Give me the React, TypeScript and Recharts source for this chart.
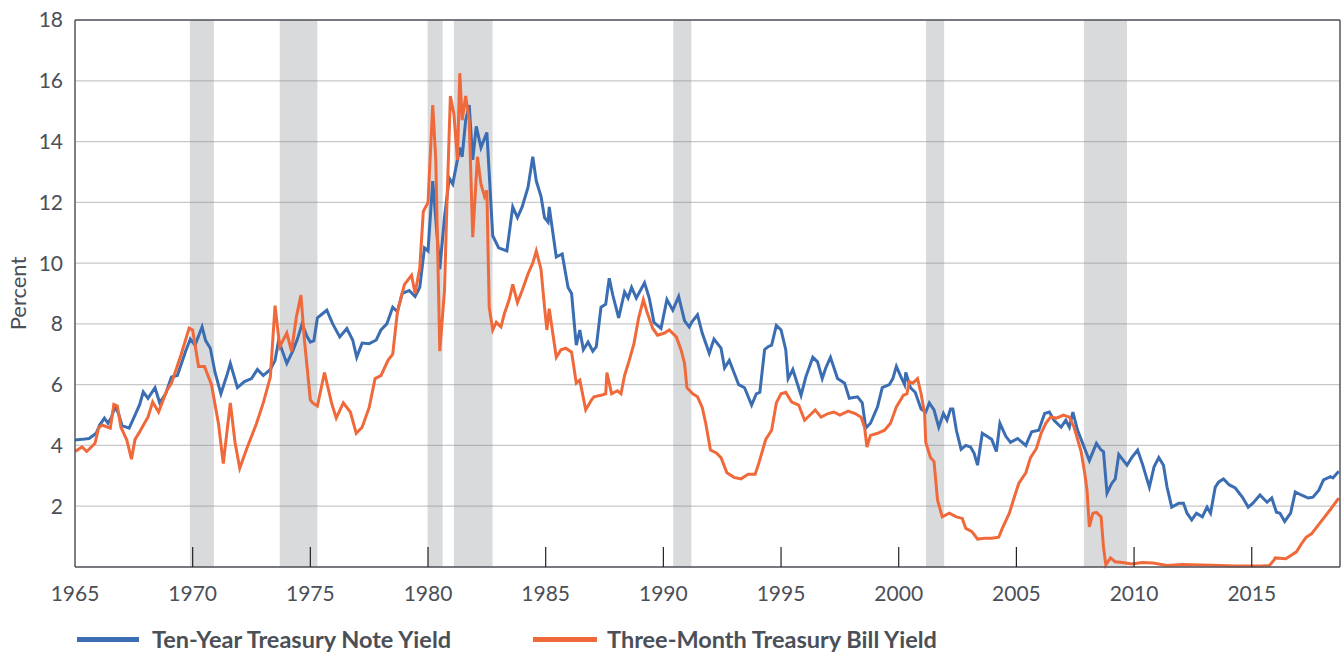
import { LineChart, Line, XAxis, YAxis, CartesianGrid, ReferenceArea, ReferenceLine, Legend } from 'recharts';

// [year, percent]
const tenYearNote: [number, number][] = [
  [1965.0, 4.18], [1965.3, 4.2], [1965.6, 4.23], [1965.9, 4.4], [1966.05, 4.67], [1966.25, 4.9], [1966.4, 4.73],
  [1966.55, 4.93], [1966.7, 5.27], [1966.85, 5.05], [1967.0, 4.65], [1967.3, 4.57], [1967.55, 5.0], [1967.75, 5.35],
  [1967.9, 5.76], [1968.1, 5.55], [1968.4, 5.9], [1968.6, 5.4], [1968.85, 5.7], [1969.1, 6.25], [1969.35, 6.3],
  [1969.7, 7.1], [1969.9, 7.5], [1970.1, 7.3], [1970.4, 7.9], [1970.55, 7.45], [1970.75, 7.2], [1970.95, 6.4],
  [1971.2, 5.7], [1971.45, 6.3], [1971.6, 6.7], [1971.9, 5.9], [1972.2, 6.1], [1972.5, 6.2], [1972.75, 6.5],
  [1973.0, 6.3], [1973.3, 6.5], [1973.5, 6.8], [1973.65, 7.45], [1974.0, 6.7], [1974.25, 7.1], [1974.45, 7.5],
  [1974.65, 8.0], [1974.85, 7.6], [1975.0, 7.4], [1975.15, 7.45], [1975.3, 8.2], [1975.7, 8.45], [1975.95, 8.0],
  [1976.25, 7.57], [1976.55, 7.85], [1976.8, 7.47], [1976.97, 6.9], [1977.2, 7.37], [1977.5, 7.35], [1977.8, 7.47],
  [1978.0, 7.8], [1978.25, 8.0], [1978.5, 8.55], [1978.7, 8.4], [1978.9, 9.0], [1979.2, 9.1], [1979.45, 8.9],
  [1979.65, 9.2], [1979.85, 10.5], [1980.0, 10.4], [1980.2, 12.7], [1980.5, 9.8], [1980.7, 11.5], [1980.9, 12.8],
  [1981.05, 12.6], [1981.2, 13.2], [1981.35, 13.8], [1981.45, 13.5], [1981.6, 14.7], [1981.75, 15.2], [1981.9, 13.4],
  [1982.05, 14.5], [1982.25, 13.8], [1982.5, 14.3], [1982.6, 12.95], [1982.75, 10.9], [1983.0, 10.5], [1983.35, 10.4],
  [1983.6, 11.85], [1983.8, 11.5], [1984.0, 11.85], [1984.25, 12.5], [1984.45, 13.5], [1984.6, 12.7], [1984.8, 12.2],
  [1984.95, 11.5], [1985.1, 11.35], [1985.15, 11.85], [1985.45, 10.2], [1985.7, 10.3], [1985.95, 9.2], [1986.1, 9.0],
  [1986.25, 7.7], [1986.3, 7.3], [1986.45, 7.8], [1986.6, 7.15], [1986.8, 7.4], [1987.0, 7.1], [1987.15, 7.25],
  [1987.35, 8.55], [1987.55, 8.65], [1987.7, 9.5], [1987.85, 8.95], [1988.1, 8.2], [1988.35, 9.05], [1988.5, 8.85],
  [1988.65, 9.2], [1988.85, 8.85], [1989.2, 9.35], [1989.4, 8.85], [1989.6, 8.05], [1989.9, 7.85], [1990.15, 8.8],
  [1990.4, 8.45], [1990.65, 8.9], [1990.9, 8.1], [1991.1, 7.9], [1991.2, 8.05], [1991.45, 8.3], [1991.65, 7.7],
  [1991.95, 7.03], [1992.15, 7.5], [1992.45, 7.2], [1992.6, 6.55], [1992.8, 6.8], [1993.0, 6.4], [1993.2, 6.0],
  [1993.45, 5.9], [1993.75, 5.33], [1993.95, 5.7], [1994.1, 5.75], [1994.3, 7.15], [1994.45, 7.25], [1994.6, 7.3],
  [1994.8, 7.95], [1995.0, 7.8], [1995.2, 7.15], [1995.3, 6.2], [1995.5, 6.5], [1995.85, 5.65], [1996.05, 6.25],
  [1996.35, 6.9], [1996.55, 6.75], [1996.75, 6.2], [1996.9, 6.55], [1997.1, 6.9], [1997.4, 6.2], [1997.7, 6.05],
  [1997.9, 5.55], [1998.25, 5.6], [1998.45, 5.4], [1998.6, 4.57], [1998.8, 4.73], [1999.1, 5.27], [1999.3, 5.9],
  [1999.6, 6.0], [1999.75, 6.2], [1999.9, 6.6], [2000.1, 6.25], [2000.25, 6.0], [2000.3, 6.4], [2000.5, 5.9],
  [2000.7, 5.75], [2000.95, 5.2], [2001.15, 5.1], [2001.3, 5.4], [2001.5, 5.17], [2001.7, 4.6], [2001.9, 5.05],
  [2002.05, 4.83], [2002.2, 5.2], [2002.3, 5.2], [2002.45, 4.5], [2002.65, 3.87], [2002.85, 4.0], [2003.05, 3.95],
  [2003.2, 3.75], [2003.35, 3.35], [2003.55, 4.4], [2003.75, 4.3], [2003.95, 4.2], [2004.15, 3.8], [2004.3, 4.73],
  [2004.55, 4.3], [2004.75, 4.1], [2005.05, 4.23], [2005.4, 4.0], [2005.65, 4.45], [2005.95, 4.5], [2006.2, 5.05],
  [2006.4, 5.1], [2006.6, 4.83], [2006.9, 4.6], [2007.1, 4.83], [2007.25, 4.6], [2007.4, 5.1], [2007.6, 4.5],
  [2007.8, 4.1], [2007.95, 3.8], [2008.1, 3.5], [2008.4, 4.07], [2008.6, 3.85], [2008.7, 3.8], [2008.85, 2.43],
  [2009.05, 2.75], [2009.2, 2.9], [2009.35, 3.7], [2009.55, 3.5], [2009.7, 3.35], [2009.9, 3.6], [2010.15, 3.85],
  [2010.35, 3.4], [2010.65, 2.63], [2010.85, 3.3], [2011.05, 3.6], [2011.25, 3.35], [2011.4, 2.63], [2011.6, 1.97],
  [2011.9, 2.1], [2012.1, 2.1], [2012.25, 1.77], [2012.45, 1.55], [2012.65, 1.77], [2012.9, 1.65], [2013.1, 1.97],
  [2013.25, 1.77], [2013.45, 2.63], [2013.6, 2.8], [2013.8, 2.9], [2014.05, 2.7], [2014.3, 2.6], [2014.6, 2.3],
  [2014.85, 1.97], [2015.05, 2.1], [2015.35, 2.37], [2015.65, 2.13], [2015.85, 2.27], [2016.05, 1.8], [2016.2, 1.77],
  [2016.4, 1.5], [2016.65, 1.77], [2016.85, 2.47], [2017.1, 2.37], [2017.4, 2.27], [2017.6, 2.3], [2017.85, 2.53],
  [2018.05, 2.87], [2018.35, 2.97], [2018.45, 2.93], [2018.7, 3.15],
];

const threeMonthBill: [number, number][] = [
  [1965.0, 3.8], [1965.3, 3.95], [1965.5, 3.8], [1965.85, 4.07], [1966.0, 4.57], [1966.15, 4.67], [1966.5, 4.57],
  [1966.65, 5.35], [1966.8, 5.3], [1966.95, 4.6], [1967.2, 4.18], [1967.4, 3.55], [1967.55, 4.2], [1967.75, 4.45],
  [1967.95, 4.73], [1968.1, 4.93], [1968.3, 5.43], [1968.55, 5.1], [1968.9, 5.8], [1969.1, 6.05], [1969.5, 6.97],
  [1969.85, 7.86], [1970.0, 7.8], [1970.25, 6.6], [1970.5, 6.6], [1970.8, 6.0], [1971.1, 4.7], [1971.3, 3.4],
  [1971.6, 5.4], [1971.8, 4.1], [1972.0, 3.25], [1972.3, 3.9], [1972.7, 4.7], [1973.0, 5.4], [1973.3, 6.25],
  [1973.5, 8.6], [1973.7, 7.25], [1974.0, 7.7], [1974.2, 7.1], [1974.4, 8.2], [1974.6, 8.95], [1974.75, 7.45],
  [1975.0, 5.5], [1975.1, 5.4], [1975.3, 5.3], [1975.6, 6.4], [1975.9, 5.4], [1976.1, 4.9], [1976.4, 5.4],
  [1976.7, 5.1], [1976.95, 4.4], [1977.2, 4.6], [1977.5, 5.25], [1977.75, 6.2], [1978.0, 6.3], [1978.3, 6.8],
  [1978.5, 7.0], [1978.7, 8.4], [1979.0, 9.3], [1979.3, 9.6], [1979.45, 9.0], [1979.65, 9.85], [1979.8, 11.7],
  [1980.0, 12.0], [1980.2, 15.2], [1980.33, 13.4], [1980.5, 7.1], [1980.7, 9.1], [1980.8, 11.85], [1980.95, 15.5],
  [1981.1, 14.9], [1981.25, 13.4], [1981.35, 16.25], [1981.45, 14.7], [1981.6, 15.5], [1981.75, 14.7], [1981.9, 10.85],
  [1982.1, 13.5], [1982.25, 12.6], [1982.4, 12.2], [1982.5, 12.4], [1982.6, 8.55], [1982.75, 7.8], [1982.9, 8.05],
  [1983.1, 7.9], [1983.25, 8.35], [1983.45, 8.8], [1983.6, 9.3], [1983.8, 8.7], [1984.0, 9.1], [1984.25, 9.65],
  [1984.45, 10.0], [1984.6, 10.4], [1984.8, 9.8], [1984.95, 8.55], [1985.05, 7.8], [1985.15, 8.5], [1985.45, 6.9],
  [1985.65, 7.15], [1985.85, 7.2], [1986.1, 7.07], [1986.3, 6.05], [1986.45, 6.15], [1986.7, 5.17], [1986.95, 5.5],
  [1987.05, 5.6], [1987.35, 5.65], [1987.55, 5.7], [1987.6, 6.4], [1987.8, 5.7], [1988.05, 5.8], [1988.2, 5.7],
  [1988.35, 6.3], [1988.55, 6.8], [1988.75, 7.35], [1988.95, 8.2], [1989.15, 8.8], [1989.3, 8.4], [1989.55, 7.85],
  [1989.75, 7.63], [1990.05, 7.7], [1990.25, 7.8], [1990.55, 7.57], [1990.75, 7.15], [1990.9, 6.7], [1991.0, 5.9],
  [1991.25, 5.7], [1991.45, 5.6], [1991.65, 5.25], [1991.8, 4.73], [1992.0, 3.85], [1992.25, 3.75], [1992.45, 3.6],
  [1992.7, 3.1], [1993.0, 2.95], [1993.3, 2.9], [1993.6, 3.05], [1993.9, 3.05], [1994.05, 3.4], [1994.35, 4.2],
  [1994.6, 4.5], [1994.8, 5.4], [1995.0, 5.7], [1995.2, 5.75], [1995.45, 5.43], [1995.75, 5.33], [1996.0, 4.83],
  [1996.3, 5.05], [1996.45, 5.17], [1996.7, 4.93], [1997.0, 5.05], [1997.25, 5.1], [1997.5, 5.0], [1997.85, 5.13],
  [1998.15, 5.05], [1998.4, 4.93], [1998.55, 4.6], [1998.65, 3.95], [1998.8, 4.33], [1999.1, 4.4], [1999.4, 4.5],
  [1999.65, 4.73], [1999.9, 5.27], [2000.2, 5.65], [2000.35, 5.7], [2000.45, 6.1], [2000.6, 6.05], [2000.8, 6.2],
  [2000.95, 5.7], [2001.1, 5.05], [2001.15, 4.1], [2001.35, 3.6], [2001.5, 3.47], [2001.65, 2.2], [2001.85, 1.65],
  [2002.15, 1.77], [2002.45, 1.65], [2002.7, 1.6], [2002.85, 1.27], [2003.1, 1.17], [2003.35, 0.92], [2003.7, 0.95],
  [2003.95, 0.95], [2004.25, 0.98], [2004.4, 1.27], [2004.7, 1.77], [2004.9, 2.27], [2005.1, 2.75], [2005.4, 3.1],
  [2005.6, 3.6], [2005.85, 3.9], [2006.05, 4.4], [2006.25, 4.73], [2006.45, 4.93], [2006.7, 4.9], [2007.0, 5.0],
  [2007.25, 4.93], [2007.45, 4.6], [2007.6, 4.2], [2007.75, 3.8], [2007.9, 3.1], [2008.0, 2.53], [2008.1, 1.32],
  [2008.25, 1.77], [2008.4, 1.8], [2008.6, 1.65], [2008.7, 0.66], [2008.8, 0.07], [2009.0, 0.3], [2009.2, 0.17],
  [2009.5, 0.15], [2009.9, 0.1], [2010.35, 0.15], [2010.8, 0.13], [2011.4, 0.05], [2012.05, 0.08], [2013.3, 0.06],
  [2014.3, 0.03], [2015.4, 0.03], [2015.75, 0.05], [2015.95, 0.23], [2016.0, 0.3], [2016.45, 0.27], [2016.9, 0.5],
  [2017.1, 0.75], [2017.3, 0.97], [2017.55, 1.1], [2017.85, 1.4], [2018.05, 1.6], [2018.35, 1.9], [2018.7, 2.27],
];

const recessions: [number, number][] = [
  [1969.88, 1970.9], [1973.7, 1975.3], [1979.98, 1980.62], [1981.1, 1982.74],
  [1990.42, 1991.19], [2001.16, 2001.93], [2007.87, 2009.7],
];

const xTicks = [1965, 1970, 1975, 1980, 1985, 1990, 1995, 2000, 2005, 2010, 2015];
const yTicks = [2, 4, 6, 8, 10, 12, 14, 16, 18];
const X_MAX = 2018.75;

const BLUE = '#3b6db3';
const ORANGE = '#f0693b';
const TEXT = '#4b4f57';
const AXIS = '#53565d';
const FONT = 'Lato, "Open Sans", sans-serif';

const toRows = (pts: [number, number][]) => pts.map(([x, y]) => ({ x, y }));

const XTick = (props: any) => {
  const { x, y, payload } = props;
  return (
    <g>
      {payload.value !== 1965 && <line x1={x} x2={x} y1={y - 20} y2={y} stroke="#222" strokeWidth={1.2} />}
      <text x={x} y={y + 34} textAnchor="middle" fill={TEXT} fontSize={21} fontFamily={FONT}>{payload.value}</text>
    </g>
  );
};

const LegendBox = () => (
  <div style={{ position: 'relative', height: 30, fontFamily: FONT, fontWeight: 700, fontSize: 23.5, color: TEXT }}>
    <div style={{ position: 'absolute', left: 77, top: 13, width: 62, height: 5, background: BLUE }} />
    <div style={{ position: 'absolute', left: 152, top: 1, lineHeight: '28px', whiteSpace: 'nowrap' }}>Ten-Year Treasury Note Yield</div>
    <div style={{ position: 'absolute', left: 533, top: 13, width: 64, height: 5, background: ORANGE }} />
    <div style={{ position: 'absolute', left: 607, top: 1, lineHeight: '28px', whiteSpace: 'nowrap' }}>Three-Month Treasury Bill Yield</div>
  </div>
);

export default function App() {
  return (
    <div>
      <style>{`body{margin:0}`}</style>
      <LineChart width={1343} height={654} margin={{ top: 20, right: 3, bottom: 0, left: 0 }}>
        <CartesianGrid vertical={false} stroke="#c8c8c8" strokeWidth={1.2} />
        {recessions.map(([a, b]) => (
          <ReferenceArea key={a} x1={a} x2={b} y1={0} y2={18} fill="#80838a" fillOpacity={0.3}
            stroke="none" ifOverflow="hidden" />
        ))}
        <XAxis type="number" dataKey="x" domain={[1965, X_MAX]} ticks={xTicks} allowDataOverflow
          height={57} tickSize={0} tickMargin={0} tickLine={false} interval={0}
          axisLine={{ stroke: AXIS, strokeWidth: 1.5 }} tick={<XTick />} />
        <YAxis type="number" domain={[0, 18]} ticks={yTicks} width={75} tickSize={0} tickMargin={12}
          tickLine={false} axisLine={{ stroke: AXIS, strokeWidth: 1.5 }}
          tick={{ fontSize: 21, fill: TEXT, fontFamily: FONT }}
          label={{ value: 'Percent', angle: -90, position: 'insideLeft', offset: 18, style: { textAnchor: 'middle', fontSize: 22, fill: TEXT, fontFamily: FONT } }} />
        <Line data={toRows(tenYearNote)} dataKey="y" type="linear" stroke={BLUE} strokeWidth={3}
          dot={false} activeDot={false} isAnimationActive={false} />
        <Line data={toRows(threeMonthBill)} dataKey="y" type="linear" stroke={ORANGE} strokeWidth={3}
          dot={false} activeDot={false} isAnimationActive={false} />
        <ReferenceLine y={18} stroke={AXIS} strokeWidth={1.5} />
        <ReferenceLine x={X_MAX} stroke={AXIS} strokeWidth={1.5} />
        <Legend verticalAlign="bottom" height={30} content={<LegendBox />} />
      </LineChart>
    </div>
  );
}
